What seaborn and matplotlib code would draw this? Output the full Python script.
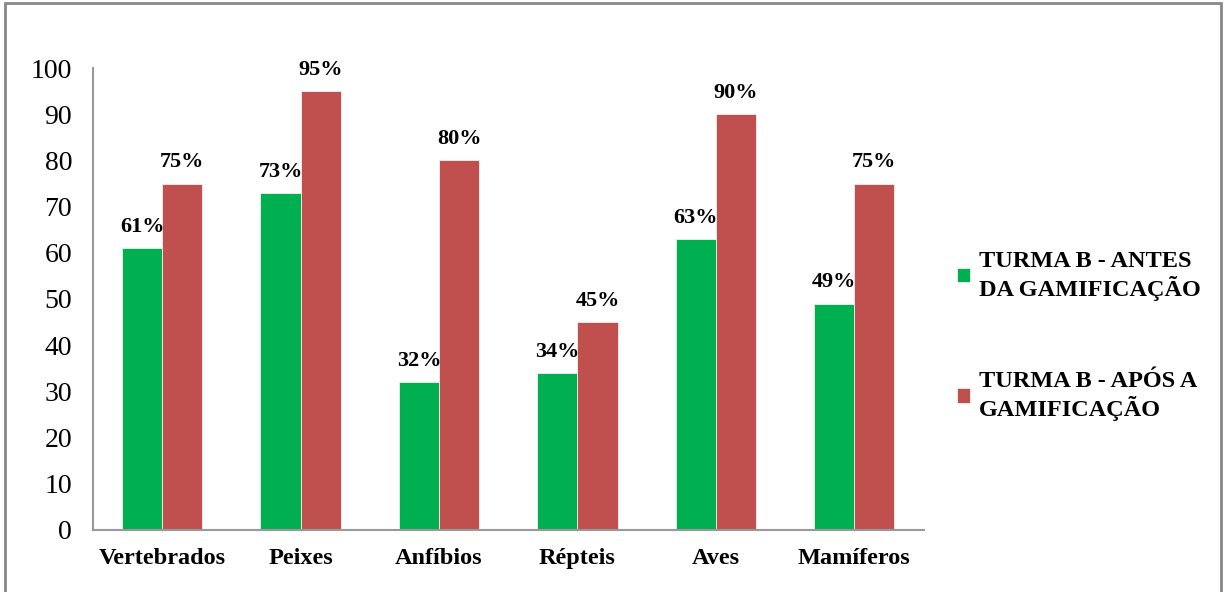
import matplotlib
matplotlib.use("Agg")
import matplotlib.pyplot as plt
from matplotlib.patches import Rectangle
import pandas as pd
import seaborn as sns

categories = ["Vertebrados", "Peixes", "Anfíbios", "Répteis", "Aves", "Mamíferos"]
antes = [61, 73, 32, 34, 63, 49]
apos = [75, 95, 80, 45, 90, 75]
series_names = ["TURMA B - ANTES\nDA GAMIFICAÇÃO", "TURMA B - APÓS A\nGAMIFICAÇÃO"]
yticks = list(range(0, 101, 10))

sns.set_theme(style="white")
plt.rcParams["font.family"] = ["Liberation Serif", "DejaVu Serif"]
plt.rcParams["text.color"] = "black"
plt.rcParams["xtick.color"] = "black"
plt.rcParams["ytick.color"] = "black"

df = pd.DataFrame({
    "categoria": categories * 2,
    "valor": antes + apos,
    "serie": [series_names[0]] * len(categories) + [series_names[1]] * len(categories),
})

fig = plt.figure(figsize=(12.25, 5.92), dpi=100)
ax = fig.add_axes([0.0759, 0.105, 0.678, 0.78])

palette = {series_names[0]: "#00B050", series_names[1]: "#C0504D"}
sns.barplot(data=df, x="categoria", y="valor", hue="serie", palette=palette,
            width=0.58, saturation=1, ax=ax, edgecolor="#f0f0f0", linewidth=0.6,
            legend=True)

for container in ax.containers:
    ax.bar_label(container, labels=[f"{int(v)}%" for v in container.datavalues],
                 padding=8, fontsize=16, fontweight="bold", color="black")

ax.set_ylim(0, 100)
ax.set_yticks(yticks)
ax.set_xlim(-0.5, len(categories) - 0.5)
ax.set_xlabel("")
ax.set_ylabel("")
ax.tick_params(axis="y", labelsize=20, length=0, pad=15, labelcolor="black")
ax.tick_params(axis="x", labelsize=17.5, length=0, pad=13, labelcolor="black")
for lbl in ax.get_xticklabels():
    lbl.set_fontweight("bold")

for side in ["top", "right"]:
    ax.spines[side].set_visible(False)
for side in ["left", "bottom"]:
    ax.spines[side].set_color("#999999")
    ax.spines[side].set_linewidth(1.5)

leg = ax.legend(loc="center left", bbox_to_anchor=(1.04, 0.42), frameon=False,
                borderaxespad=0, borderpad=0,
                prop={"size": 17.5, "weight": "bold"}, handlelength=0.55,
                handleheight=0.55, handletextpad=0.35, labelspacing=2.9)
for t in leg.get_texts():
    t.set_color("black")

fig.patches.append(Rectangle((0.004, -0.02), 0.9926, 1.015, transform=fig.transFigure,
                             fill=False, edgecolor="#888888", linewidth=2))

fig.savefig("out.png", dpi=100)
